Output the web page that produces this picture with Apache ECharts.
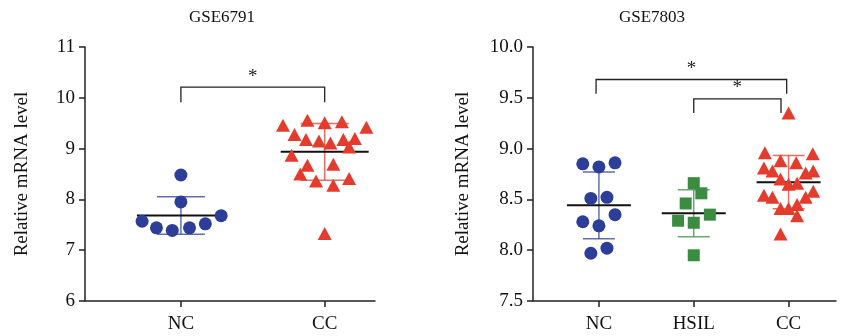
<!DOCTYPE html>
<html><head><meta charset="utf-8">
<script src="https://cdn.jsdelivr.net/npm/echarts@6/dist/echarts.min.js"></script>
<style>html,body{margin:0;padding:0;background:#fff}#c{width:845px;height:336px}</style>
</head><body><div id="c"></div>
<script>
// ---------- GSE6791 ----------
const titles = ['GSE6791', 'GSE7803'];
const yName = 'Relative mRNA level';
const cats1 = ['NC', 'CC'];
const nc1 = [8.48, 7.95, 7.57, 7.44, 7.39, 7.44, 7.52, 7.68];
const nc1X = [0, 0, -0.27, -0.17, -0.06, 0.06, 0.17, 0.28];
const cc1 = [9.46, 9.56, 9.51, 9.53, 9.42, 9.28, 9.18, 9.15, 9.11, 9.18,
             9.20, 9.03, 8.87, 8.67, 8.69, 8.50, 8.36, 8.28, 8.41, 7.33];
const cc1X = [-0.29, -0.12, 0, 0.12, 0.29, -0.21, -0.13, -0.04, 0.04, 0.13,
              0.21, 0.17, -0.23, -0.12, 0.06, -0.17, -0.06, 0.06, 0.17, 0];
const yTicks1 = [6, 7, 8, 9, 10, 11];
// significance brackets: [fromPos, toPos, topValue, legBottomValue]
const brackets1 = [[1, 2, 10.21, 9.91]];

// ---------- GSE7803 ----------
const cats2 = ['NC', 'HSIL', 'CC'];
const nc2 = [8.85, 8.82, 8.86, 8.51, 8.52, 8.28, 8.24, 8.35, 7.97, 8.02];
const nc2X = [-0.17, 0, 0.17, -0.085, 0.085, -0.17, 0, 0.17, -0.085, 0.085];
const hsil2 = [8.66, 8.56, 8.46, 8.35, 8.29, 8.27, 7.95];
const hsil2X = [0, 0.08, -0.085, 0.17, -0.165, 0, 0];
const cc2 = [9.35, 8.96, 8.95, 8.88, 8.86, 8.81, 8.78, 8.76, 8.78, 8.70, 8.65,
             8.66, 8.54, 8.52, 8.52, 8.58, 8.41, 8.41, 8.45, 8.34, 8.16];
const cc2X = [0, -0.25, 0.255, -0.085, 0.08, -0.26, -0.17, 0.18, 0.26, -0.085, 0,
              0.09, -0.26, -0.17, 0.18, 0.26, -0.085, 0, 0.09, 0.09, -0.085];
const yTicks2 = [7.5, 8.0, 8.5, 9.0, 9.5, 10.0];
const brackets2 = [[0.97, 2.98, 9.68, 9.54], [2.0, 2.92, 9.49, 9.35]];

const BLUE = '#2d3e98', RED = '#e53b2c', GREEN = '#3b8b41';
const FONT = '"Liberation Serif", "DejaVu Serif", serif';

function stats(arr) {
  const m = arr.reduce((a, b) => a + b, 0) / arr.length;
  const v = arr.reduce((a, b) => a + (b - m) * (b - m), 0) / (arr.length - 1);
  return [m, Math.sqrt(v)];
}
function pts(vals, offs, pos) { return vals.map((v, i) => [pos + offs[i], v]); }

function errSeries(gi, groups, colors, meanHalf, capHalf) {
  return {
    type: 'custom', xAxisIndex: gi, yAxisIndex: gi, z: 1, silent: true,
    data: groups.map((g, i) => { const s = stats(g); return [i + 1, s[0], s[1]]; }),
    renderItem: function (params, api) {
      const x = api.value(0), m = api.value(1), s = api.value(2);
      const c = colors[params.dataIndex];
      const pm = api.coord([x, m]), pt = api.coord([x, m + s]), pb = api.coord([x, m - s]);
      const ls = { stroke: c, lineWidth: 1.5, opacity: 0.75 };
      return { type: 'group', children: [
        { type: 'line', shape: { x1: pt[0], y1: pt[1], x2: pb[0], y2: pb[1] }, style: ls },
        { type: 'line', shape: { x1: pt[0] - capHalf, y1: pt[1], x2: pt[0] + capHalf, y2: pt[1] }, style: ls },
        { type: 'line', shape: { x1: pb[0] - capHalf, y1: pb[1], x2: pb[0] + capHalf, y2: pb[1] }, style: ls },
        { type: 'line', shape: { x1: pm[0] - meanHalf, y1: pm[1], x2: pm[0] + meanHalf, y2: pm[1] }, style: { stroke: '#111', lineWidth: 2 } }
      ]};
    }
  };
}
function bracketSeries(gi, br) {
  return {
    type: 'custom', xAxisIndex: gi, yAxisIndex: gi, z: 4, silent: true,
    data: br,
    renderItem: function (params, api) {
      const a = api.coord([api.value(0), api.value(2)]);
      const b = api.coord([api.value(1), api.value(2)]);
      const la = api.coord([api.value(0), api.value(3)]);
      const ls = { stroke: '#222', lineWidth: 1.3, fill: null };
      return { type: 'group', children: [
        { type: 'polyline', shape: { points: [[la[0], la[1]], a, b, [b[0], la[1]]] }, style: ls },
        { type: 'text', x: (a[0] + b[0]) / 2, y: a[1] - 1,
          style: { text: '*', fill: '#222', font: '19px ' + FONT, align: 'center', verticalAlign: 'bottom' } }
      ]};
    }
  };
}
function xAxis(gi, cats, min, max) {
  const pos = cats.map((c, i) => i + 1);
  return {
    type: 'value', gridIndex: gi, min: min, max: max,
    splitLine: { show: false },
    axisLine: { show: true, onZero: false, lineStyle: { color: '#222', width: 1.5 } },
    axisTick: { show: true, length: 6, customValues: pos, lineStyle: { color: '#222', width: 1.5 } },
    axisLabel: { customValues: pos, margin: 14, color: '#111', fontFamily: FONT, fontSize: 19,
                 formatter: v => cats[Math.round(v) - 1] || '' }
  };
}
function yAxis(gi, ticks, dec, gap) {
  return {
    type: 'value', gridIndex: gi, min: ticks[0], max: ticks[ticks.length - 1],
    interval: ticks[1] - ticks[0],
    name: yName, nameLocation: 'middle', nameGap: gap, nameRotate: 90,
    nameTextStyle: { color: '#111', fontFamily: FONT, fontSize: 19 },
    splitLine: { show: false },
    axisLine: { show: true, lineStyle: { color: '#222', width: 1.5 } },
    axisTick: { show: true, length: 6, lineStyle: { color: '#222', width: 1.5 } },
    axisLabel: { margin: 10, color: '#111', fontFamily: FONT, fontSize: 19,
                 formatter: v => v.toFixed(dec) }
  };
}
function scat(gi, data, sym, size, color) {
  return { type: 'scatter', xAxisIndex: gi, yAxisIndex: gi, z: 3, data: data,
           symbol: sym, symbolSize: size, itemStyle: { color: color, opacity: 1 }, silent: true };
}

const chart = echarts.init(document.getElementById('c'));
chart.setOption({
  animation: false,
  backgroundColor: '#fff',
  graphic: [
    { type: 'text', x: 222, y: 18, style: { text: titles[0], font: '17px ' + FONT, fill: '#111', align: 'center', verticalAlign: 'middle' } },
    { type: 'text', x: 652, y: 18, style: { text: titles[1], font: '17px ' + FONT, fill: '#111', align: 'center', verticalAlign: 'middle' } }
  ],
  grid: [
    { left: 85, top: 47, width: 290, height: 254 },
    { left: 533, top: 47, width: 303, height: 254 }
  ],
  xAxis: [xAxis(0, cats1, 0.333, 2.35), xAxis(1, cats2, 0.305, 3.5)],
  yAxis: [yAxis(0, yTicks1, 0, 53), yAxis(1, yTicks2, 1, 60)],
  series: [
    errSeries(0, [nc1, cc1], [BLUE, RED], 44, 24),
    errSeries(1, [nc2, hsil2, cc2], [BLUE, GREEN, RED], 32, 16),
    scat(0, pts(nc1, nc1X, 1), 'circle', 13, BLUE),
    scat(0, pts(cc1, cc1X, 2), 'triangle', [14, 13], RED),
    scat(1, pts(nc2, nc2X, 1), 'circle', 13, BLUE),
    scat(1, pts(hsil2, hsil2X, 2), 'rect', 12, GREEN),
    scat(1, pts(cc2, cc2X, 3), 'triangle', [14, 13], RED),
    bracketSeries(0, brackets1),
    bracketSeries(1, brackets2)
  ]
});
</script></body></html>
